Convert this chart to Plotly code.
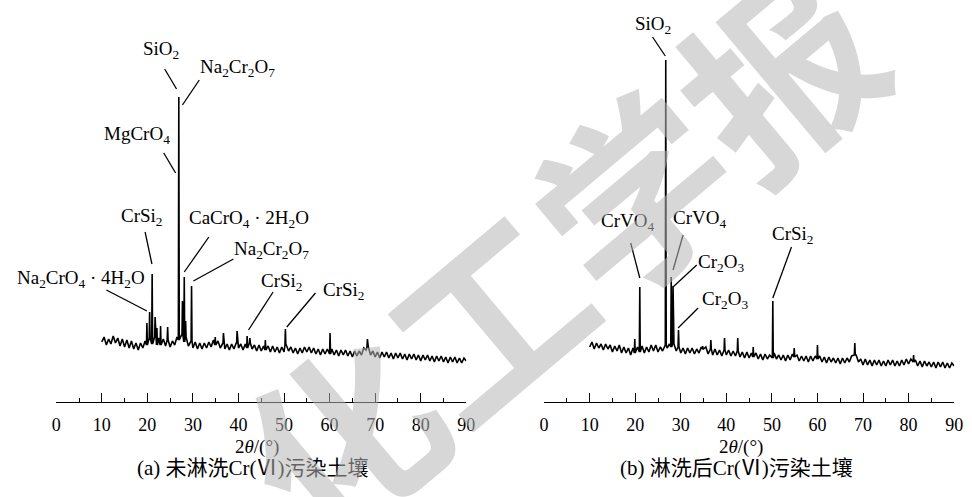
import plotly.graph_objects as go

W, H = 972, 497

# ---------------- data ----------------
# baseline sampled every 0.5 deg from 10 to 90 deg (2theta); intensity in arbitrary units
base_x = [10 + 0.5 * i for i in range(161)]

base_a = [
    60, 65, 57, 63, 58, 66, 59, 64, 56, 63,
    55, 62, 54, 61, 53, 59, 52, 59, 54, 61,
    57, 64, 58, 65, 57, 64, 57, 63, 56, 62,
    55, 61, 57, 65, 62, 67, 60, 65, 56, 61,
    54, 60, 53, 59, 53, 59, 54, 60, 55, 62,
    57, 61, 54, 59, 53, 58, 52, 58, 53, 59,
    54, 58, 52, 58, 54, 59, 53, 57, 51, 57,
    51, 56, 52, 56, 50, 56, 50, 55, 49, 55,
    50, 57, 51, 55, 49, 54, 48, 54, 49, 55,
    50, 55, 49, 54, 48, 53, 47, 53, 48, 53,
    48, 53, 47, 52, 46, 52, 47, 52, 46, 51,
    45, 51, 46, 51, 47, 54, 52, 55, 47, 51,
    45, 50, 44, 50, 45, 50, 44, 49, 43, 49,
    44, 49, 43, 48, 42, 48, 43, 48, 42, 47,
    41, 47, 42, 47, 41, 46, 40, 46, 41, 46,
    40, 45, 39, 45, 40, 45, 39, 44, 39, 44,
    41,
]
base_b = [
    55, 60, 53, 59, 54, 58, 52, 58, 53, 57,
    50, 56, 51, 57, 49, 55, 49, 54, 47, 54,
    49, 55, 50, 56, 49, 55, 50, 57, 51, 57,
    50, 55, 51, 57, 54, 58, 55, 58, 51, 55,
    49, 54, 48, 54, 49, 54, 48, 53, 49, 55,
    53, 55, 48, 53, 47, 53, 47, 52, 46, 52,
    47, 52, 46, 51, 46, 51, 45, 50, 44, 50,
    44, 49, 45, 49, 43, 48, 42, 48, 43, 47,
    44, 49, 43, 47, 42, 47, 41, 47, 42, 48,
    45, 47, 41, 46, 41, 46, 40, 46, 41, 46,
    43, 46, 40, 45, 39, 45, 40, 44, 39, 44,
    38, 44, 39, 44, 40, 46, 47, 47, 40, 43,
    37, 43, 37, 42, 36, 42, 37, 42, 36, 41,
    36, 42, 37, 42, 36, 41, 36, 42, 37, 43,
    38, 43, 40, 42, 36, 41, 35, 41, 36, 40,
    35, 40, 34, 40, 35, 40, 34, 39, 34, 39,
    36,
]

# diffraction peaks: position (deg) and peak intensity
peak_a_x = [19.9, 20.5, 21.05, 21.7, 22.1, 22.9, 24.45, 26.9, 27.7, 28.1, 28.4, 29.7,
            34.9, 36.7, 39.7, 41.9, 42.5, 45.9, 50.3, 60.1, 68.3]
peak_a_y = [79, 90, 128, 85, 74, 76, 75, 305, 101, 125, 81, 116,
            65, 69, 71, 66, 64, 62, 73, 69, 63]

peak_b_x = [19.9, 21.0, 26.7, 27.9, 28.3, 29.5, 34.8, 36.6, 39.6, 42.5, 45.9,
            50.2, 54.9, 60.0, 68.2, 81.1]
peak_b_y = [63, 115, 342, 125, 116, 72, 56, 62, 64, 64, 55,
            101, 54, 57, 59, 47]

# phase labels: text, label centre (deg, intensity), leader line start and end
labels_a = [
    ("SiO<sub>2</sub>", 22.9, 352, 23.8, 333, 26.4, 313),
    ("Na<sub>2</sub>Cr<sub>2</sub>O<sub>7</sub>", 39.8, 334, 31.4, 322, 27.7, 297),
    ("MgCrO<sub>4</sub>", 17.7, 267, 23.6, 249, 26.2, 229),
    ("CrSi<sub>2</sub>", 18.8, 185, 19.5, 170, 21.0, 138),
    ("CaCrO<sub>4</sub> · 2H<sub>2</sub>O", 42.2, 183, 33.5, 165, 28.1, 130),
    ("Na<sub>2</sub>Cr<sub>2</sub>O<sub>7</sub>", 47.2, 152, 38.9, 143, 30.1, 121),
    ("Na<sub>2</sub>CrO<sub>4</sub> · 4H<sub>2</sub>O", 5.4, 123, 11.0, 112, 19.9, 91),
    ("CrSi<sub>2</sub>", 49.6, 120, 47.6, 110, 42.2, 72),
    ("CrSi<sub>2</sub>", 63.2, 111, 56.9, 109, 50.6, 75),
]
labels_b = [
    ("SiO<sub>2</sub>", 24.0, 377, 23.8, 365, 26.6, 346),
    ("CrVO<sub>4</sub>", 18.2, 180, 19.0, 159, 21.0, 124),
    ("CrVO<sub>4</sub>", 34.2, 183, 30.5, 167, 28.3, 132),
    ("Cr<sub>2</sub>O<sub>3</sub>", 38.9, 139, 33.5, 137, 28.3, 115),
    ("Cr<sub>2</sub>O<sub>3</sub>", 39.6, 102, 33.8, 94, 29.4, 74),
    ("CrSi<sub>2</sub>", 54.7, 167, 54.3, 155, 50.2, 104),
]

x_ticks = [0, 10, 20, 30, 40, 50, 60, 70, 80, 90]
axis_title = "2<i>θ</i>/(°)"
captions = ["(a) 未淋洗Cr(Ⅵ)污染土壤", "(b) 淋洗后Cr(Ⅵ)污染土壤"]
watermark = "化工学报"

# ---------------- build traces ----------------
def build(bx, by, px, py, half=0.1):
    pts = [(x, y) for x, y in zip(bx, by)
           if all(abs(x - p) > half for p in px)]
    for p, h in zip(px, py):
        k = min(range(len(bx)), key=lambda i: abs(bx[i] - p))
        foot = by[k]
        pts += [(p - half, foot), (p, h), (p + half, foot)]
    pts.sort()
    return [q[0] for q in pts], [q[1] for q in pts]

xa, ya = build(base_x, base_a, peak_a_x, peak_a_y)
xb, yb = build(base_x, base_b, peak_b_x, peak_b_y)

SERIF = "Liberation Serif, Times New Roman, Noto Sans CJK SC, serif"

fig = go.Figure()
fig.add_trace(go.Scatter(x=xa, y=ya, mode="lines", xaxis="x", yaxis="y",
                         line=dict(color="black", width=1.6), showlegend=False,
                         hoverinfo="skip"))
fig.add_trace(go.Scatter(x=xb, y=yb, mode="lines", xaxis="x2", yaxis="y2",
                         line=dict(color="black", width=1.6), showlegend=False,
                         hoverinfo="skip"))

def px2x(p):
    return p / W

def px2y(p):
    return 1 - p / H

y_bottom = px2y(402)
xaxis_common = dict(
    range=[0, 90], showgrid=False, zeroline=False, showline=True,
    linecolor="black", linewidth=1.3, ticks="inside", ticklen=9,
    tickwidth=1.3, tickcolor="black", tickvals=x_ticks,
    ticktext=[str(t) for t in x_ticks], ticklabelstandoff=6,
    tickfont=dict(family=SERIF, size=18, color="black"),
    minor=dict(dtick=5, tick0=0, ticks="inside", ticklen=4, tickwidth=1.3,
               tickcolor="black", showgrid=False),
    fixedrange=True,
)
yaxis_common = dict(range=[0, 402], visible=False, showgrid=False,
                    zeroline=False, domain=[y_bottom, 1.0], fixedrange=True)

fig.update_layout(
    width=W, height=H, autosize=False,
    margin=dict(l=0, r=0, t=0, b=0),
    paper_bgcolor="white", plot_bgcolor="rgba(0,0,0,0)",
    xaxis=dict(domain=[px2x(52), px2x(468)], anchor="y", **xaxis_common),
    yaxis=dict(anchor="x", **yaxis_common),
    xaxis2=dict(domain=[px2x(547), px2x(963)], anchor="y2", **xaxis_common),
    yaxis2=dict(anchor="x2", **yaxis_common),
    showlegend=False,
)

annotations = []
shapes = []
for labels, xr, yr in ((labels_a, "x", "y"), (labels_b, "x2", "y2")):
    for text, tx, ty, lx0, ly0, lx1, ly1 in labels:
        annotations.append(dict(text=text, x=tx, y=ty, xref=xr, yref=yr,
                                showarrow=False, xanchor="center", yanchor="middle",
                                font=dict(family=SERIF, size=19, color="black")))
        shapes.append(dict(type="line", xref=xr, yref=yr, x0=lx0, y0=ly0,
                           x1=lx1, y1=ly1, line=dict(color="black", width=1.3)))

for cx_title, cx_cap, cap in ((256, 252, captions[0]), (747, 742, captions[1])):
    annotations.append(dict(text=axis_title, x=px2x(cx_title), y=px2y(447),
                            xref="paper", yref="paper", showarrow=False,
                            xanchor="center", yanchor="middle",
                            font=dict(family=SERIF, size=19, color="black")))
    annotations.append(dict(text=cap, x=px2x(cx_cap), y=px2y(468),
                            xref="paper", yref="paper", showarrow=False,
                            xanchor="center", yanchor="middle",
                            font=dict(family=SERIF, size=21, color="black")))

annotations.append(dict(text=watermark, x=px2x(560), y=px2y(250),
                        xref="paper", yref="paper", showarrow=False,
                        xanchor="center", yanchor="middle", textangle=-40,
                        font=dict(family="Noto Sans CJK SC", size=190, weight="bold",
                                  color="rgba(183,183,183,0.55)")))

fig.update_layout(annotations=annotations, shapes=shapes)
fig.write_html(
    "out.html",
    config={"displayModeBar": False, "responsive": False},
    post_script=(
        "document.documentElement.style.margin='0';"
        "document.documentElement.style.overflow='hidden';"
        "document.body.style.margin='0';"
        "document.body.style.overflow='hidden';"
    ),
)
